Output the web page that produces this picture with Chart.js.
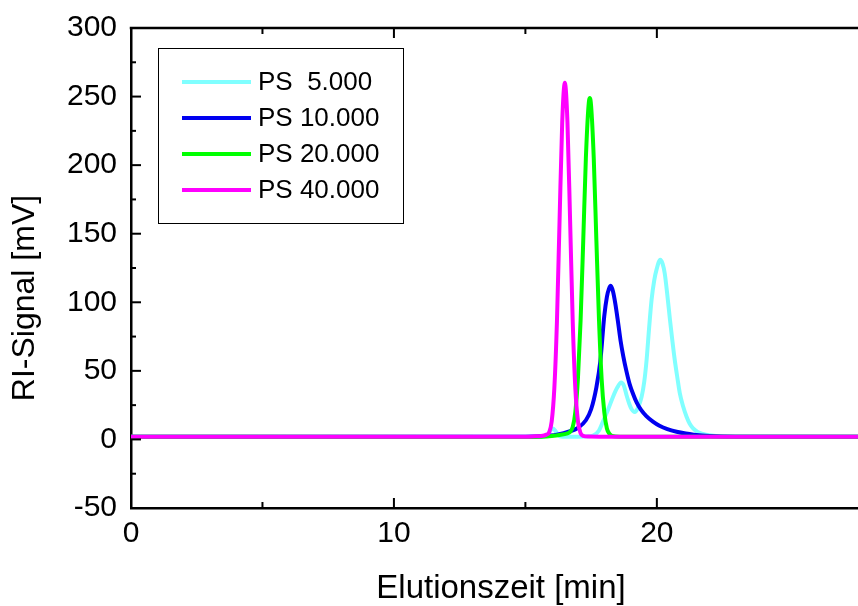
<!DOCTYPE html>
<html>
<head>
<meta charset="utf-8">
<script src="https://cdn.jsdelivr.net/npm/chart.js@4/dist/chart.umd.min.js"></script>
<style>
  html, body { margin: 0; padding: 0; background: #fff; overflow: hidden; }
  #wrap { width: 858px; height: 606px; }
</style>
</head>
<body>
<div id="wrap"><canvas id="gpc"></canvas></div>
<script>
// GPC traces of polystyrene standards
const seriesNames = ['PS  5.000', 'PS 10.000', 'PS 20.000', 'PS 40.000'];
const seriesColors = ['#80FFFF', '#0000F0', '#00FF00', '#FF00FF'];

const ps5Time = [0, 15.0, 15.7, 15.85, 15.95, 16.05, 16.15, 16.25, 16.4, 17.0, 17.4, 17.6, 17.8, 17.95, 18.15, 18.33, 18.5, 18.64, 18.75, 18.85, 18.95, 19.04, 19.16, 19.28, 19.42, 19.52, 19.61, 19.7, 19.8, 19.9, 19.99, 20.13, 20.22, 20.3, 20.4, 20.5, 20.59, 20.68, 20.78, 20.87, 21.0, 21.13, 21.25, 21.37, 21.55, 21.75, 22.0, 22.5, 27.7];
const ps5Signal = [2, 2, 2.2, 3.5, 6.5, 8, 6, 3, 2, 2, 2.3, 3, 6.5, 13, 22, 31, 38, 41.5, 39, 32, 26, 22, 20, 23, 31, 42, 58, 80, 102, 116, 124, 131, 128, 121, 105, 87, 72, 58, 45, 34, 24, 16.6, 11.5, 8.3, 5.5, 4, 3, 2.3, 2];

const ps10Time = [0, 15.0, 15.6, 16.2, 16.7, 17.0, 17.3, 17.5, 17.7, 17.85, 18.0, 18.1, 18.18, 18.25, 18.33, 18.42, 18.52, 18.62, 18.72, 18.84, 18.97, 19.1, 19.23, 19.4, 19.6, 19.85, 20.1, 20.4, 20.75, 21.1, 21.4, 22.0, 23.0, 27.7];
const ps10Signal = [2, 2, 2.3, 3.5, 6, 8.5, 14, 22, 38, 57, 90, 104, 110, 112, 108, 99, 86, 72, 61, 50, 40, 33, 27, 21.5, 17, 13, 10, 7.5, 5.6, 4.3, 3.5, 2.5, 2, 2];

const ps20Time = [0, 15.0, 15.6, 16.0, 16.3, 16.6, 16.7, 16.8, 16.9, 17.0, 17.1, 17.2, 17.3, 17.4, 17.45, 17.5, 17.6, 17.7, 17.8, 17.9, 18.0, 18.1, 18.2, 18.3, 18.6, 27.7];
const ps20Signal = [2, 1.8, 2, 2.5, 3.2, 4.5, 5.5, 9, 20, 45, 87, 145, 205, 243, 249, 243, 205, 145, 87, 44, 20, 8, 4, 2.5, 2, 2];

const ps40Time = [0, 15.0, 15.4, 15.6, 15.8, 15.9, 16.0, 16.1, 16.2, 16.3, 16.4, 16.5, 16.6, 16.7, 16.8, 16.9, 17.0, 17.1, 17.2, 17.4, 18.0, 27.7];
const ps40Signal = [2, 2, 2.3, 2.5, 3.5, 5, 13, 37, 86, 160, 231, 260, 231, 160, 86, 37, 13, 4.5, 2.6, 2.1, 2, 2];

const xTickLabels = [0, 10, 20];
const yTickLabels = [-50, 0, 50, 100, 150, 200, 250, 300];
const xTitle = 'Elutionszeit [min]';
const yTitle = 'RI-Signal [mV]';

const FONT = "'Liberation Sans', Arial, sans-serif";

function toPoints(times, values) {
    return times.map((t, i) => ({ x: t, y: values[i] }));
}

const traces = [
    toPoints(ps5Time, ps5Signal),
    toPoints(ps10Time, ps10Signal),
    toPoints(ps20Time, ps20Signal),
    toPoints(ps40Time, ps40Signal)
];

// Frame on top, inward tick marks, axis titles and the boxed legend
const framePlugin = {
    id: 'frame',
    afterDraw(chart) {
        const ctx = chart.ctx;
        const area = chart.chartArea;
        const xs = chart.scales.x;
        const ys = chart.scales.y;

        ctx.save();
        ctx.strokeStyle = '#000';
        ctx.lineWidth = 2.5;
        ctx.beginPath();
        ctx.moveTo(area.left - 1.25, area.top);
        ctx.lineTo(area.right, area.top);
        ctx.stroke();

        ctx.lineWidth = 2;
        xs.ticks.forEach(t => {
            if (t.value % 5 !== 0) return;
            const px = xs.getPixelForValue(t.value);
            const len = t.value % 10 === 0 ? 10 : 6;
            ctx.beginPath();
            ctx.moveTo(px, area.bottom);
            ctx.lineTo(px, area.bottom - len);
            ctx.moveTo(px, area.top);
            ctx.lineTo(px, area.top + len);
            ctx.stroke();
        });
        ys.ticks.forEach(t => {
            const py = ys.getPixelForValue(t.value);
            const len = t.value % 50 === 0 ? 10 : 5;
            ctx.beginPath();
            ctx.moveTo(area.left, py);
            ctx.lineTo(area.left + len, py);
            ctx.stroke();
        });

        // axis titles
        ctx.fillStyle = '#000';
        ctx.textAlign = 'center';
        ctx.textBaseline = 'middle';
        ctx.font = '33px ' + FONT;
        ctx.fillText(xTitle, 501, 589);
        ctx.save();
        ctx.translate(25, 298);
        ctx.rotate(-Math.PI / 2);
        ctx.font = '32px ' + FONT;
        ctx.fillText(yTitle, 0, 0);
        ctx.restore();

        // legend
        const box = { left: 158, top: 48, width: 245, height: 175 };
        ctx.lineWidth = 1;
        ctx.strokeStyle = '#000';
        ctx.strokeRect(box.left + 0.5, box.top + 0.5, box.width, box.height);
        ctx.font = '26px ' + FONT;
        ctx.textAlign = 'left';
        ctx.textBaseline = 'middle';
        chart.data.datasets.forEach((ds, i) => {
            const y = box.top + 34 + i * 36;
            ctx.strokeStyle = ds.borderColor;
            ctx.lineWidth = 4;
            ctx.beginPath();
            ctx.moveTo(182, y);
            ctx.lineTo(251, y);
            ctx.stroke();
            ctx.fillText(ds.label, 258, y + 1);
        });
        ctx.restore();
    }
};

new Chart(document.getElementById('gpc'), {
    type: 'scatter',
    data: {
        datasets: traces.map((pts, i) => ({
            label: seriesNames[i],
            data: pts,
            showLine: true,
            borderColor: seriesColors[i],
            backgroundColor: seriesColors[i],
            borderWidth: 4,
            pointRadius: 0,
            cubicInterpolationMode: 'monotone',
            order: 3 - i
        }))
    },
    options: {
        responsive: true,
        maintainAspectRatio: false,
        animation: false,
        layout: { padding: { top: 28, right: 0, bottom: 0, left: 0 } },
        plugins: {
            legend: { display: false },
            tooltip: { enabled: false }
        },
        scales: {
            x: {
                type: 'linear',
                min: 0,
                max: 27.65,
                afterFit: s => { s.height = 98; s.paddingRight = 0; s.paddingLeft = 0; },
                grid: { display: false, drawTicks: false },
                border: { display: true, color: '#000', width: 2.5 },
                ticks: {
                    stepSize: 5,
                    padding: 8,
                    color: '#000',
                    maxRotation: 0,
                    autoSkip: false,
                    font: { family: FONT, size: 30 },
                    callback: v => xTickLabels.includes(v) ? String(v) : ''
                },
                title: { display: false }
            },
            y: {
                min: -50,
                max: 300,
                afterFit: s => { s.width = 131; s.paddingTop = 0; s.paddingBottom = 0; },
                grid: { display: false, drawTicks: false },
                border: { display: true, color: '#000', width: 2.5 },
                ticks: {
                    stepSize: 25,
                    padding: 14,
                    color: '#000',
                    autoSkip: false,
                    font: { family: FONT, size: 30 },
                    callback: v => yTickLabels.includes(v) ? String(v) : ''
                },
                title: { display: false }
            }
        }
    },
    plugins: [framePlugin]
});
</script>
</body>
</html>
